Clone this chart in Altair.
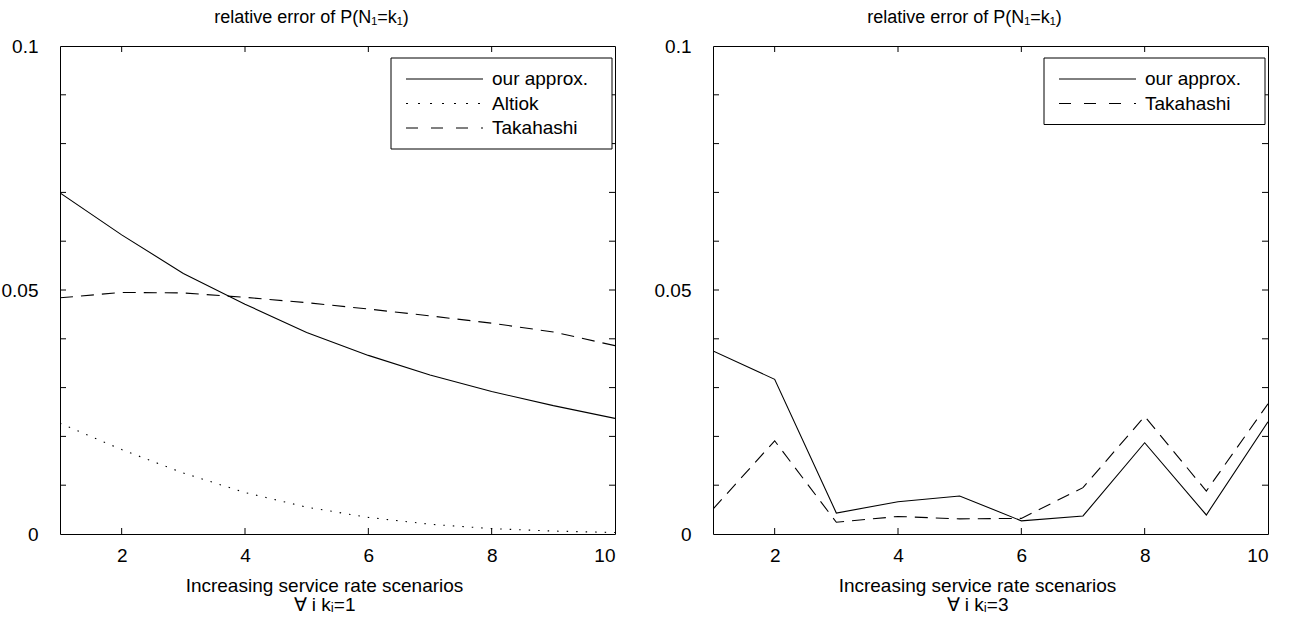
import altair as alt
import pandas as pd

FONT = "Liberation Sans"

scenarios = [1, 2, 3, 4, 5, 6, 7, 8, 9, 10]

# left panel (all k_i = 1)
left_our = [0.0699, 0.0613, 0.0534, 0.0471, 0.0413, 0.0366, 0.0326, 0.0292, 0.0263, 0.0237]
left_altiok = [0.0227, 0.0173, 0.0125, 0.0085, 0.0055, 0.0034, 0.0020, 0.0011, 0.0006, 0.0003]
left_takahashi = [0.0484, 0.0495, 0.0494, 0.0485, 0.0474, 0.0461, 0.0447, 0.0432, 0.0414, 0.0386]

# right panel (all k_i = 3)
right_our = [0.0375, 0.0317, 0.0043, 0.0066, 0.0078, 0.0027, 0.0037, 0.0187, 0.0039, 0.0230]
right_takahashi = [0.0051, 0.0191, 0.0024, 0.0036, 0.0031, 0.0032, 0.0095, 0.0241, 0.0088, 0.0267]

x_tick_labels = [2, 4, 6, 8, 10]
x_minor_ticks = [2, 4, 6, 8]
y_tick_labels = [0, 0.05, 0.1]
y_minor_ticks = [0.01, 0.02, 0.03, 0.04, 0.05, 0.06, 0.07, 0.08, 0.09]

panel_title = "relative error of P(N\u2081=k\u2081)"
x_title_line1 = "Increasing service rate scenarios"
left_x_title_line2 = "\u2200 i k\u1d62=1"
right_x_title_line2 = "\u2200 i k\u1d62=3"

SERIES_OUR = "our approx."
SERIES_ALTIOK = "Altiok"
SERIES_TAKA = "Takahashi"

W, H = 555, 488
FS = 19
DASHES = {SERIES_OUR: None, SERIES_ALTIOK: [1.5, 8], SERIES_TAKA: [13, 8]}

xs = alt.Scale(domain=[1, 10], nice=False, zero=False)
ys = alt.Scale(domain=[0, 0.1], nice=False, zero=False)


def make_axes(line2):
    xaxis = alt.Axis(values=x_tick_labels, tickSize=0, domain=False, grid=False,
                     labelFont=FONT, labelFontSize=FS, labelColor="black",
                     labelPadding=12, labelFlush=True,
                     title=[x_title_line1, line2], titleFont=FONT, titleFontSize=FS,
                     titleFontWeight="normal", titleColor="black",
                     titleX=264, titleY=42, titleBaseline="top", titleAlign="center",
                     titleLineHeight=19)
    yaxis = alt.Axis(values=y_tick_labels, format=".2~f", tickSize=0, domain=False,
                     grid=False, labelFont=FONT, labelFontSize=FS, labelColor="black",
                     labelPadding=22, title=None, minExtent=59, maxExtent=59)
    return xaxis, yaxis


def line_layer(name, values, axes):
    df = pd.DataFrame({"x": scenarios, "y": values, "series": name})
    kw = dict(color="black", strokeWidth=1.1, clip=True)
    if DASHES[name] is not None:
        kw["strokeDash"] = DASHES[name]
    return alt.Chart(df).mark_line(**kw).encode(
        x=alt.X("x:Q", scale=xs, axis=axes[0]),
        y=alt.Y("y:Q", scale=ys, axis=axes[1]),
    )


def tick_layers(axes):
    ydf = pd.DataFrame({"v": y_minor_ticks})
    xdf = pd.DataFrame({"v": x_minor_ticks})
    yb = alt.Chart(ydf).mark_rule(color="black", strokeWidth=1)
    xb = alt.Chart(xdf).mark_rule(color="black", strokeWidth=1)
    yenc = alt.Y("v:Q", scale=ys, axis=axes[1])
    xenc = alt.X("v:Q", scale=xs, axis=axes[0])
    return [
        yb.encode(y=yenc, x=alt.value(0), x2=alt.value(6)),
        yb.encode(y=yenc, x=alt.value(W - 6), x2=alt.value(W)),
        xb.encode(x=xenc, y=alt.value(H - 6), y2=alt.value(H)),
        xb.encode(x=xenc, y=alt.value(0), y2=alt.value(6)),
    ]


def legend_layers(names):
    n = len(names)
    top = 12
    row0 = 33
    step = 24.5
    box_h = 21 + step * (n - 1) + 21
    one = pd.DataFrame({"a": [0]})
    layers = [
        alt.Chart(one).mark_rect(fill="white", stroke="black", strokeWidth=1).encode(
            x=alt.value(331), x2=alt.value(552), y=alt.value(top), y2=alt.value(top + box_h))
    ]
    for i, name in enumerate(names):
        yy = row0 + step * i
        kw = dict(color="black", strokeWidth=1)
        if DASHES[name] is not None:
            kw["strokeDash"] = [2, 10] if name == SERIES_ALTIOK else [12, 13]
        d = pd.DataFrame({"name": [name]})
        layers.append(alt.Chart(d).mark_rule(**kw).encode(
            x=alt.value(346), x2=alt.value(423), y=alt.value(yy)))
        layers.append(alt.Chart(d).mark_text(align="left", baseline="middle", font=FONT,
                                             fontSize=FS, color="black").encode(
            x=alt.value(432), y=alt.value(yy), text=alt.Text("name:N")))
    return layers


def panel(series, line2):
    axes = make_axes(line2)
    layers = [line_layer(name, vals, axes) for name, vals in series]
    layers += tick_layers(axes)
    layers += legend_layers([s[0] for s in series])
    return alt.layer(*layers).properties(
        width=W, height=H,
        title=alt.TitleParams(panel_title, font=FONT, fontSize=18, fontWeight="normal",
                              color="black", offset=-4, baseline="alphabetic", dx=-26,
                              anchor="middle"),
    )


left = panel([(SERIES_OUR, left_our), (SERIES_ALTIOK, left_altiok), (SERIES_TAKA, left_takahashi)],
             left_x_title_line2)
right = panel([(SERIES_OUR, right_our), (SERIES_TAKA, right_takahashi)], right_x_title_line2)

chart = alt.hconcat(left, right, spacing=98, bounds="flush").properties(
    padding={"left": 0, "top": 8, "right": 0, "bottom": 0},
    background="white",
).configure_view(stroke="black", strokeWidth=1)

chart.save("out.html", embed_options={"renderer": "svg", "actions": False})
